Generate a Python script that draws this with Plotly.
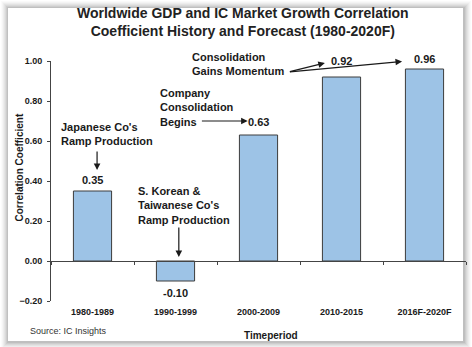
import plotly.graph_objects as go

# Correlation of worldwide GDP growth and IC market growth by period
periods = ["1980-1989", "1990-1999", "2000-2009", "2010-2015", "2016F-2020F"]
correlation = [0.35, -0.10, 0.63, 0.92, 0.96]
y_ticks = [-0.20, 0.00, 0.20, 0.40, 0.60, 0.80, 1.00]

# vertical offset (px) of each value label from the bar end
label_shift_px = [11, -12, 13, 16, 10]

FONT = "Arial, Liberation Sans, sans-serif"
INK = "#1a1a1a"
Y_MIN, Y_MAX = -0.2, 1.0

fig = go.Figure()

fig.add_trace(go.Bar(
    x=periods, y=correlation, width=0.46,
    marker=dict(color="#9DC3E6", line=dict(color="#3c3c3c", width=1)),
    hoverinfo="x+y", showlegend=False,
))
# same categories on the axis drawn through zero (carries the boundary ticks)
fig.add_trace(go.Scatter(
    x=periods, y=[0] * len(periods), xaxis="x2", mode="markers",
    marker=dict(opacity=0), hoverinfo="skip", showlegend=False,
))

annotations = []

# chart title
annotations.append(dict(
    x=0.463, y=1.24, xref="paper", yref="paper",
    text="Worldwide GDP and IC Market Growth Correlation<br>"
         "Coefficient History and Forecast (1980-2020F)",
    xanchor="center", yanchor="top", align="center", showarrow=False,
    font=dict(family=FONT, size=14, color="#222222", weight="bold"),
))

# value labels
for i, (p, v) in enumerate(zip(periods, correlation)):
    annotations.append(dict(
        x=p, y=v, xref="x", yref="y", text=f"{v:.2f}", showarrow=False,
        yshift=label_shift_px[i], yanchor="middle",
        font=dict(family=FONT, size=11, color=INK, weight="bold"),
    ))

note_font = dict(family=FONT, size=11, color=INK, weight="bold")

# callout texts
notes = [
    ("Japanese Co's<br>Ramp Production", -0.40, 0.635),
    ("S. Korean &<br>Taiwanese Co's<br>Ramp Production", 0.53, 0.28),
    ("Company<br>Consolidation<br>Begins", 0.79, 0.77),
    ("Consolidation<br>Gains Momentum", 1.17, 0.985),
]
for txt, nx, ny in notes:
    annotations.append(dict(
        x=nx, y=ny, xref="x", yref="y", text=txt, showarrow=False,
        xanchor="left", yanchor="middle", align="left", font=note_font,
    ))

# callout arrows: (head x, head y, tail x, tail y)
arrows = [
    (0.055, 0.455, 0.055, 0.555),
    (1.04, 0.02, 1.04, 0.175),
    (1.87, 0.70, 1.30, 0.70),
    (2.80, 0.99, 2.36, 0.945),
    (3.73, 0.998, 2.36, 0.945),
]
for hx, hy, tx, ty in arrows:
    annotations.append(dict(
        x=hx, y=hy, ax=tx, ay=ty, xref="x", yref="y", axref="x", ayref="y",
        text="", showarrow=True, arrowhead=2, arrowsize=1.1, arrowwidth=1.2,
        arrowcolor=INK,
    ))

# y-axis title
annotations.append(dict(
    x=-0.094, y=0.558, xref="paper", yref="paper", text="Correlation Coefficient",
    textangle=-90, showarrow=False,
    font=dict(family=FONT, size=10, color=INK, weight="bold"),
))
# source line
annotations.append(dict(
    x=-0.056, y=-0.125, xref="paper", yref="paper", text="Source: IC Insights",
    xanchor="left", yanchor="middle", showarrow=False,
    font=dict(family=FONT, size=9, color="#333333"),
))
# x-axis title
annotations.append(dict(
    x=0.53, y=-0.142, xref="paper", yref="paper", text="Timeperiod",
    xanchor="center", yanchor="middle", showarrow=False,
    font=dict(family=FONT, size=10, color=INK, weight="bold"),
))

# card with a soft drop shadow
x0, x1, y0, y1 = -0.1036, 0.9928, -0.1667, 1.2208
dx, dy = 1 / 415, 1 / 240
shapes = []
for k, a in [(7, 0.02), (6, 0.025), (5, 0.03), (4, 0.035), (3, 0.045), (2, 0.055), (1, 0.065)]:
    shapes.append(dict(
        type="rect", xref="paper", yref="paper", layer="below",
        x0=x0 - k * dx, x1=x1 + k * dx + dx, y0=y0 - k * dy - dy, y1=y1 + k * dy,
        fillcolor=f"rgba(0,0,0,{a})", line=dict(width=0),
    ))
shapes.append(dict(
    type="rect", xref="paper", yref="paper", layer="below",
    x0=x0, x1=x1, y0=y0, y1=y1, fillcolor="white", line=dict(width=0),
))

zero_pos = (0 - Y_MIN) / (Y_MAX - Y_MIN)

fig.update_layout(
    width=472, height=347,
    margin=dict(l=51, r=6, t=61, b=46),
    paper_bgcolor="white", plot_bgcolor="rgba(0,0,0,0)",
    font=dict(family=FONT, color=INK),
    xaxis=dict(
        type="category", categoryarray=periods, range=[-0.5, 4.5],
        showline=False, ticks="", showgrid=False, zeroline=False,
        tickfont=dict(family=FONT, size=9, color=INK, weight="bold"),
        ticklabelstandoff=4, automargin=False,
    ),
    xaxis2=dict(
        type="category", categoryarray=periods, range=[-0.5, 4.5],
        overlaying="x", anchor="free", position=zero_pos, side="bottom",
        showline=True, linecolor="#444444", linewidth=1,
        ticks="outside", ticklen=3, tickcolor="#444444", tickson="boundaries",
        showticklabels=False, showgrid=False, zeroline=False, automargin=False,
    ),
    yaxis=dict(
        range=[Y_MIN, Y_MAX], tickvals=y_ticks, tickformat=".2f",
        showline=True, linecolor="#444444", linewidth=1,
        ticks="outside", ticklen=3, tickcolor="#444444",
        showgrid=False, zeroline=True, zerolinecolor="#444444", zerolinewidth=1,
        automargin=False,
        tickfont=dict(family=FONT, size=9, color=INK, weight="bold"),
        ticklabelstandoff=3,
    ),
    annotations=annotations,
    shapes=shapes,
    bargap=0.54,
)

fig.write_html("out.html")
